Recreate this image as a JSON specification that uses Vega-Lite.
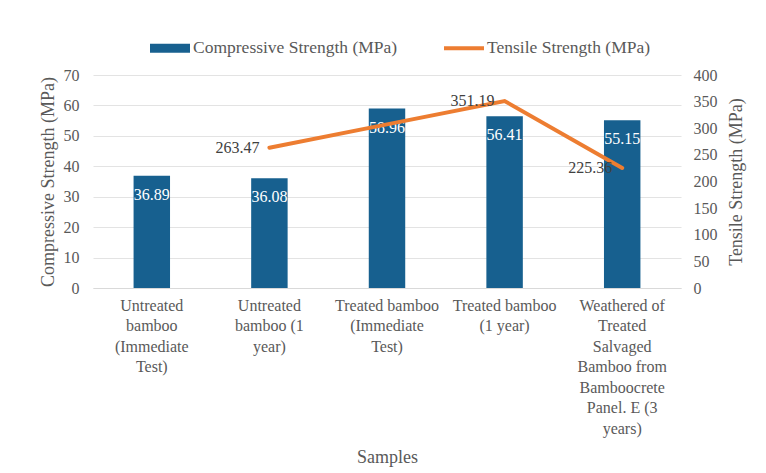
{
  "$schema": "https://vega.github.io/schema/vega-lite/v6.json",
  "autosize": {"type": "none"},
  "width": 588,
  "height": 213,
  "padding": {"left": 93, "top": 75, "right": 85, "bottom": 185},
  "background": "white",
  "config": {
    "view": {"stroke": null},
    "font": "Liberation Serif, Times New Roman, serif",
    "axis": {"labelFont": "Liberation Serif, Times New Roman, serif", "titleFont": "Liberation Serif, Times New Roman, serif", "labelColor": "#595959", "titleColor": "#595959", "titleFontWeight": "normal"}
  },
  "data": {
    "values": [
      {"sample": "Untreated bamboo (Immediate Test)", "compressive": 36.89, "tensile": null},
      {"sample": "Untreated bamboo (1 year)", "compressive": 36.08, "tensile": 263.47},
      {"sample": "Treated bamboo (Immediate Test)", "compressive": 58.96, "tensile": 307.3},
      {"sample": "Treated bamboo (1 year)", "compressive": 56.41, "tensile": 351.19},
      {"sample": "Weathered of Treated Salvaged Bamboo from Bamboocrete Panel. E (3 years)", "compressive": 55.15, "tensile": 225.36}
    ]
  },
  "encoding": {
    "x": {
      "field": "sample",
      "type": "nominal",
      "sort": null,
      "scale": {"paddingInner": 0.69, "paddingOuter": 0.345},
      "axis": {
        "title": "Samples",
        "titleFontSize": 18,
        "titlePadding": 12,
        "labelAngle": 0,
        "labelFontSize": 16,
        "labelLineHeight": 20.5,
        "labelPadding": 9,
        "labelBaseline": "top",
        "ticks": false,
        "domainColor": "#d9d9d9",
        "labelLimit": 0,
        "labelExpr": "{'Untreated bamboo (Immediate Test)': ['Untreated', 'bamboo', '(Immediate', 'Test)'], 'Untreated bamboo (1 year)': ['Untreated', 'bamboo (1', 'year)'], 'Treated bamboo (Immediate Test)': ['Treated bamboo', '(Immediate', 'Test)'], 'Treated bamboo (1 year)': ['Treated bamboo', '(1 year)'], 'Weathered of Treated Salvaged Bamboo from Bamboocrete Panel. E (3 years)': ['Weathered of', 'Treated', 'Salvaged', 'Bamboo from', 'Bamboocrete', 'Panel. E (3', 'years)']}[datum.label]"
      }
    }
  },
  "layer": [
    {
      "encoding": {
        "y": {
          "field": "compressive",
          "type": "quantitative",
          "scale": {"domain": [0, 70]},
          "axis": {
            "title": "Compressive Strength (MPa)",
            "titleFontSize": 18,
            "titlePadding": 6,
            "labelFontSize": 16,
            "labelPadding": 14,
            "values": [0, 10, 20, 30, 40, 50, 60, 70],
            "ticks": false,
            "domain": false,
            "gridColor": "#e3e3e3"
          }
        }
      },
      "layer": [
        {
          "mark": {"type": "bar"},
          "encoding": {
            "color": {
              "datum": "Compressive Strength (MPa)",
              "scale": {"domain": ["Compressive Strength (MPa)", "Tensile Strength (MPa)"], "range": ["#17608f", "#ED7D31"]},
              "legend": {
                "orient": "none",
                "legendX": 57,
                "legendY": -47,
                "direction": "horizontal",
                "title": null,
                "symbolSize": 1600,
                "labelFont": "Liberation Serif, Times New Roman, serif",
                "labelFontSize": 17.5,
                "labelColor": "#595959",
                "labelLimit": 0,
                "columnPadding": 46,
                "labelOffset": 3,
                "encode": {
                  "symbols": {
                    "update": {
                      "shape": {"signal": "datum.value === 'Tensile Strength (MPa)' ? 'M-1,-0.1L1,-0.1L1,0.1L-1,0.1Z' : 'M-1,-0.22L1,-0.22L1,0.22L-1,0.22Z'"},
                      "fill": {"scale": "color", "field": "value"},
                      "stroke": {"value": "transparent"},
                      "strokeWidth": {"value": 0},
                      "opacity": {"value": 1}
                    }
                  }
                }
              }
            }
          }
        },
        {
          "mark": {"type": "text", "fill": "white", "fontSize": 16, "baseline": "middle", "dy": 19, "font": "Liberation Serif, Times New Roman, serif"},
          "encoding": {"text": {"field": "compressive", "type": "quantitative", "format": ".2f"}}
        }
      ]
    },
    {
      "transform": [{"filter": "datum.tensile != null"}],
      "encoding": {
        "y": {
          "field": "tensile",
          "type": "quantitative",
          "scale": {"domain": [0, 400]},
          "axis": {
            "orient": "right",
            "title": "Tensile Strength (MPa)",
            "titleAngle": 270,
            "titleBaseline": "top",
            "titleFontSize": 18,
            "titlePadding": 10,
            "labelFontSize": 16,
            "labelPadding": 12,
            "values": [0, 50, 100, 150, 200, 250, 300, 350, 400],
            "ticks": false,
            "domain": false,
            "grid": false
          }
        }
      },
      "layer": [
        {
          "mark": {"type": "line", "strokeWidth": 4, "strokeCap": "round"},
          "encoding": {"color": {"datum": "Tensile Strength (MPa)"}}
        },
        {
          "transform": [{"filter": "datum.sample != 'Treated bamboo (Immediate Test)'"}],
          "mark": {"type": "text", "fill": "#404040", "fontSize": 16, "align": "right", "baseline": "middle", "dx": -10, "font": "Liberation Serif, Times New Roman, serif"},
          "encoding": {"text": {"field": "tensile", "type": "quantitative", "format": ".2f"}}
        }
      ]
    }
  ],
  "resolve": {"scale": {"y": "independent"}}
}
